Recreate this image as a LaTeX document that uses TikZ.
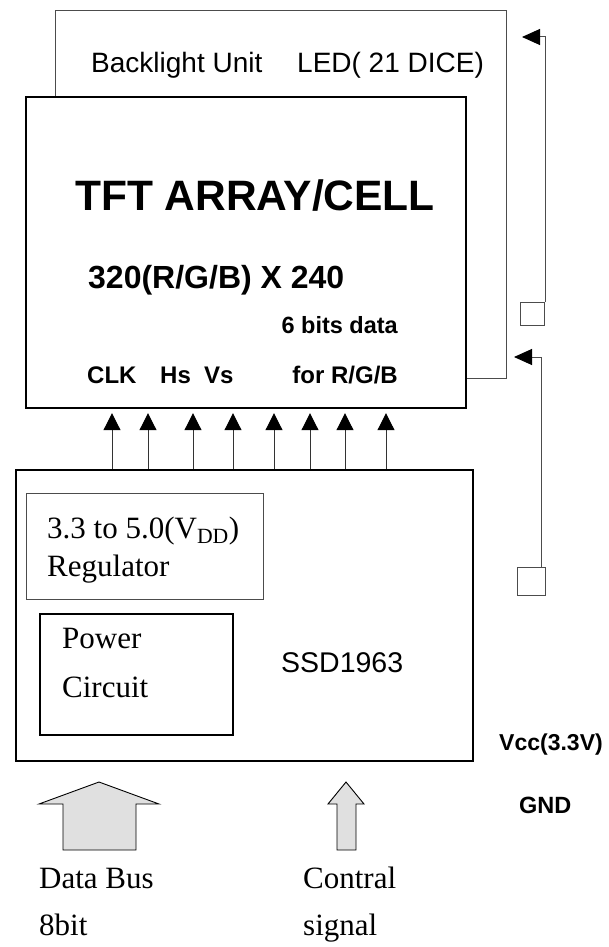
\documentclass[tikz,border=0pt]{standalone}
\usepackage{fontspec}
\setmainfont{Liberation Serif}
\newfontfamily\hsans{Liberation Sans}
\usetikzlibrary{arrows.meta}
\newcommand\myfs[1]{\fontsize{#1}{#1}\selectfont}
\begin{document}
\begin{tikzpicture}[x=1pt,y=-1pt,
  txt/.style={inner sep=0pt, anchor=base west},
  txtr/.style={inner sep=0pt, anchor=base east},
  thickbox/.style={draw=black, line width=2.2pt, inner sep=0pt, anchor=north west},
  thinbox/.style={draw=black!70, line width=1pt, inner sep=0pt, anchor=north west},
  thinline/.style={draw=black!70, line width=1pt},
  bigtip/.style={-{Triangle[length=18pt,width=16pt,color=black]}},
  sarr/.style={draw=black!80, line width=1pt, -{Triangle[length=17pt,width=17pt,color=black]}, shorten >=4pt},
  blockarr/.style={draw=black, line width=0.9pt, fill=black!12, line join=miter},
  hb/.style={font=\hsans\bfseries}
]
\useasboundingbox (0,0) rectangle (608,947);

% boxes
\node[thickbox, minimum width=440pt, minimum height=311pt] (tft) at (25,96) {};
\node[thickbox, minimum width=457pt, minimum height=291pt] (ssd) at (15,469) {};
\node[thinbox, minimum width=237pt, minimum height=106pt] (reg) at (26,493) {};
\node[thickbox, minimum width=193pt, minimum height=121pt] (pwr) at (39,613) {};

% backlight outline
\coordinate (blTL) at (55,11);
\coordinate (blTR) at (506,11);
\coordinate (blBR) at (506,378);
\draw[thinline] (tft.north -| blTL) -- (blTL) -- (blTR) -- (blBR) -- (blBR -| tft.east);

% right side squares and arrows
\node[thinbox, minimum width=24pt, minimum height=23pt] (sq1) at (520,302) {};
\node[thinbox, minimum width=28pt, minimum height=28pt] (sq2) at (517,567) {};
\coordinate (t1) at (522,37);
\coordinate (t2) at (514,357);
\draw[thinline, bigtip] (sq1.north east) |- (t1);
\draw[thinline, bigtip] ([xshift=-5pt]sq2.north east) |- (t2);

% eight signal arrows
\foreach \x in {112,148,193,233,274,310,345,386}
  \draw[sarr] (ssd.north -| \x,0) -- (tft.south -| \x,0);

% block arrows
\draw[blockarr] (99,782) -- (159,804) -- (136,804) -- (136,850) -- (63,850) -- (63,804) -- (39,804) -- cycle;
\draw[blockarr] (346,782) -- (364,804) -- (356,804) -- (356,850) -- (337,850) -- (337,804) -- (328,804) -- cycle;

% texts
\node[txt] (bl1) at (91,73) {\hsans\myfs{28}Backlight Unit};
\node[txt] (bl2) at (297,73) {\hsans\myfs{28}LED( 21 DICE)};
\node[txt, hb] (title) at (75,210) {\myfs{42.5}TFT ARRAY/CELL};
\node[txt, hb] (res) at (88,288) {\myfs{32}320(R/G/B) X 240};
\node[txtr, hb] (bits) at (398,333) {\myfs{23.5}6 bits data};
\node[txt, hb] (clk) at (87,383) {\myfs{24}CLK};
\node[txt, hb] (hs) at (160,383) {\myfs{24}Hs};
\node[txt, hb] (vs) at (204,383) {\myfs{24}Vs};
\node[txtr, hb] (rgb) at (398,383) {\myfs{24}for R/G/B};
\node[txt] (reg1) at (47,538) {\myfs{31}3.3 to 5.0(V\textsubscript{DD})};
\node[txt] (reg2) at (47,576) {\myfs{31}Regulator};
\node[txt] (pw1) at (62,648) {\myfs{31}Power};
\node[txt] (pw2) at (62,697) {\myfs{31}Circuit};
\node[txt] (chip) at (281,672) {\hsans\myfs{28.5}SSD1963};
\node[txt, hb] (vcc) at (499,750) {\myfs{23}Vcc(3.3V)};
\node[txt, hb] (gnd) at (519,813) {\myfs{23.5}GND};
\node[txt] (db1) at (39,888) {\myfs{31}Data Bus};
\node[txt] (db2) at (39,935) {\myfs{31}8bit};
\node[txt] (cs1) at (303,888) {\myfs{31}Contral};
\node[txt] (cs2) at (303,935) {\myfs{31}signal};
\end{tikzpicture}
\end{document}
